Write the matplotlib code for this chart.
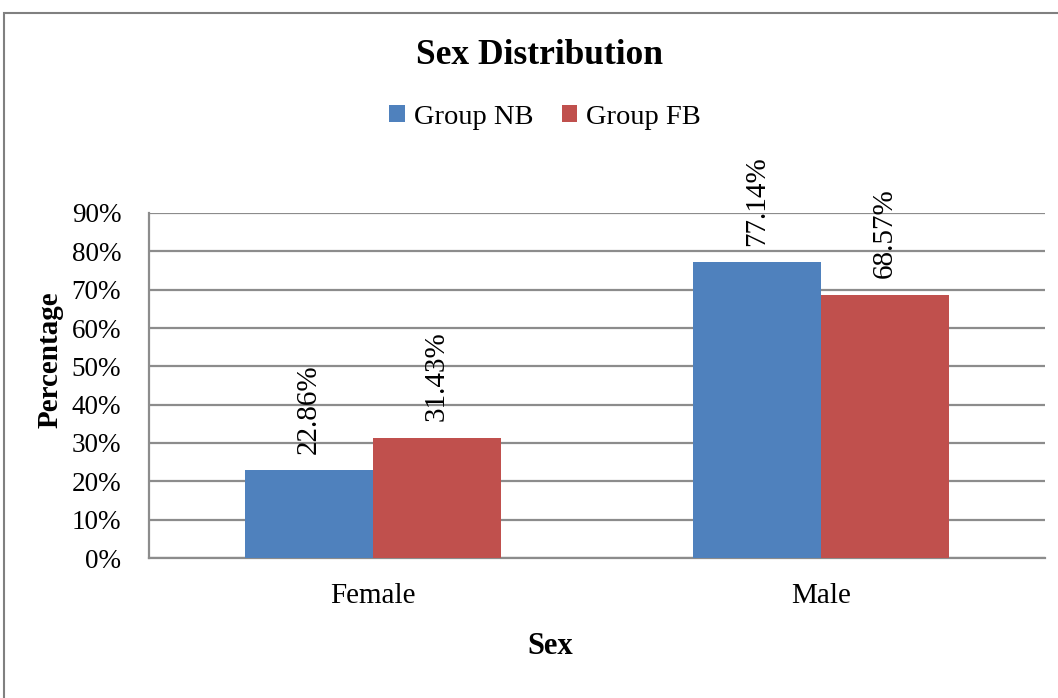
import numpy as np
import matplotlib.pyplot as plt
from matplotlib.patches import Rectangle
from matplotlib.ticker import FuncFormatter

plt.rcParams['font.family'] = ['Liberation Serif', 'DejaVu Serif']

# Data
categories = ['Female', 'Male']
groups = ['Group NB', 'Group FB']
group_nb = [22.86, 77.14]
group_fb = [31.43, 68.57]
colors = ['#4F81BD', '#C0504D']

fig = plt.figure(figsize=(10.58, 6.98), dpi=100)
ax = fig.add_axes([149 / 1058, 1 - 558 / 698, 896 / 1058, 345 / 698])

x = np.arange(len(categories))
w = 128 / 448
for i, (vals, name) in enumerate(zip([group_nb, group_fb], groups)):
    pos = x + (i - 0.5) * w
    ax.bar(pos, vals, width=w, color=colors[i], label=name, zorder=3)
    for xp, v in zip(pos, vals):
        ax.annotate('%.2f%%' % v, (xp, v), xytext=(0, 12), textcoords='offset points',
                    rotation=90, ha='center', va='bottom', fontsize=21)

ax.set_xlim(-0.5, 1.5)
ax.set_ylim(0, 90)
ax.set_yticks(np.arange(0, 91, 10))
ax.yaxis.set_major_formatter(FuncFormatter(lambda v, p: '%d%%' % v))
ax.set_xticks(x)
ax.set_xticklabels(categories)
ax.tick_params(axis='y', length=0, pad=20, labelsize=19.5)
ax.tick_params(axis='x', length=0, pad=18, labelsize=21)
ax.grid(axis='y', color='#8c8c8c', linewidth=1.6, zorder=0)
for s in ['top', 'right']:
    ax.spines[s].set_visible(False)
for s in ['left', 'bottom']:
    ax.spines[s].set_color('#8c8c8c')
    ax.spines[s].set_linewidth(1.6)

ax.set_ylabel('Percentage', fontsize=21, fontweight='bold')
ax.yaxis.set_label_coords(-0.1105, 0.574)
ax.yaxis.label.set_va('center')

fig.text(550 / 1058, 1 - 646 / 698, 'Sex', ha='center', va='center',
         fontsize=22, fontweight='bold')
fig.text(540 / 1058, 1 - 56 / 698, 'Sex Distribution', ha='center', va='center',
         fontsize=25.5, fontweight='bold')

fig.legend(loc='center', bbox_to_anchor=(545 / 1058, 1 - 117 / 698), ncol=2,
           frameon=False, fontsize=20.5, handlelength=0.55, handleheight=0.55,
           handletextpad=0.3, columnspacing=1.0)

# chart frame, cut off on the right and bottom
fig.add_artist(Rectangle((4 / 1058, -0.1), 1.2, 1.1 - 13 / 698,
                         transform=fig.transFigure, fill=False,
                         edgecolor='#808080', linewidth=1.5, clip_on=False))

fig.savefig('out.png', dpi=100)
